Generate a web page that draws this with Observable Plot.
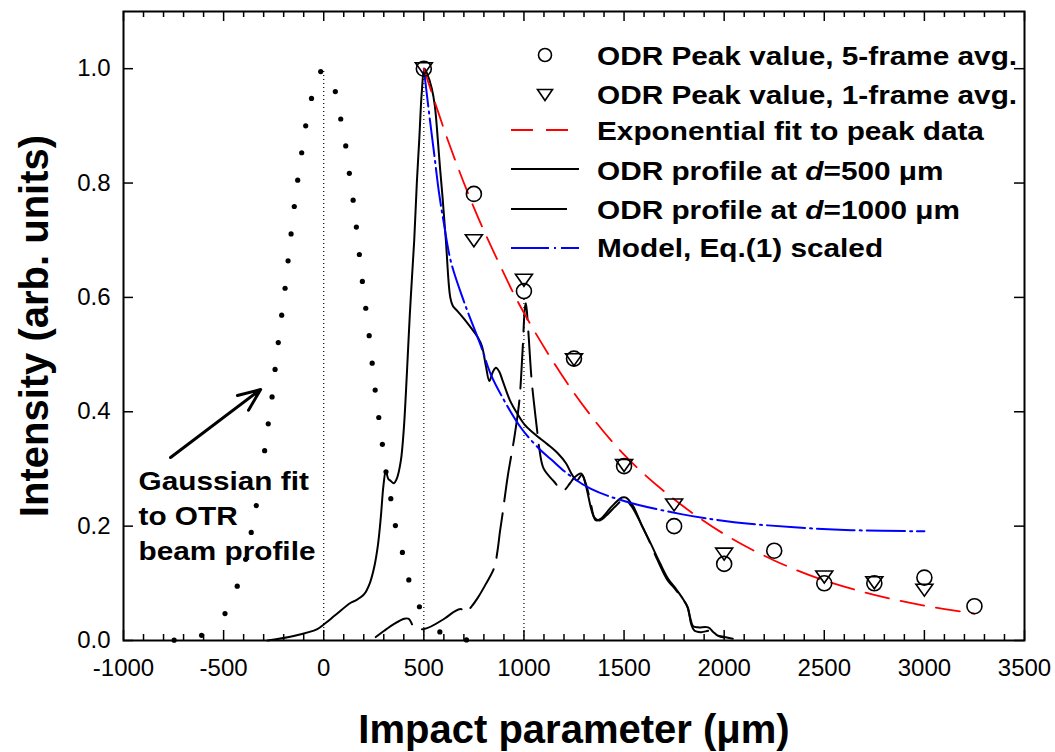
<!DOCTYPE html>
<html><head><meta charset="utf-8">
<script src="https://cdn.jsdelivr.net/npm/d3@7"></script>
<script src="https://cdn.jsdelivr.net/npm/@observablehq/plot@0.6"></script>
<style>body{margin:0;background:#fff;} #chart{width:1055px;height:752px;}</style>
</head><body><div id="chart"></div>
<script>
// ---------- data ----------
const gaussX = [-747,-610,-493,-432,-390,-362,-337,-295,-277,-258,-243,-227,-210,-193,-178,-163,-147,-130,-110,-90,-61,-15,58,85,110,128,147,163,178,193,210,227,242,257,275,293,311,335,358,393,425,478,580,713];
const gaussY = [0.0005,0.009,0.047,0.095,0.142,0.189,0.236,0.332,0.379,0.426,0.474,0.521,0.569,0.616,0.664,0.711,0.759,0.805,0.853,0.900,0.948,0.995,0.960,0.912,0.865,0.817,0.770,0.723,0.675,0.628,0.581,0.533,0.485,0.438,0.390,0.343,0.295,0.248,0.201,0.154,0.106,0.059,0.015,0.001];

const peak5X = [500,750,1000,1250,1500,1750,2000,2250,2500,2750,3000,3250];
const peak5Y = [1.0,0.781,0.611,0.493,0.305,0.200,0.134,0.157,0.100,0.100,0.110,0.060];
const peak1X = [500,750,1000,1250,1500,1750,2000,2500,2750,3000];
const peak1Y = [1.0,0.699,0.630,0.491,0.306,0.237,0.151,0.111,0.101,0.088];

const expX = [500,625,750,875,1000,1250,1500,1750,2000,2250,2500,2750,3000,3250];
const expY = [1.0,0.870,0.757,0.660,0.573,0.433,0.325,0.247,0.186,0.140,0.105,0.080,0.061,0.047];

const modelX = [500,527,552,577,600,635,700,785,835,885,985,1077,1135,1220,1335,1500,1785,2050,2350,2635,3000];
const modelY = [1.0,0.920,0.850,0.780,0.730,0.663,0.593,0.515,0.465,0.430,0.372,0.335,0.317,0.291,0.265,0.244,0.221,0.207,0.198,0.193,0.191];

const p500X = [-280,-150,-32,0,60,135,160,202,230,252,270,285,298,310,322,335,350,365,385,400,410,420,430,440,452,465,477,490,503,518,540,555,570,580,593,610,632,645,668,702,735,770,790,810,827,845,860,877,893,930,968,1002,1050,1118,1170,1210,1240,1265,1290,1310,1340,1360,1385,1440,1490,1510,1545,1590,1630,1680,1720,1760,1790,1815,1830,1845,1870,1920,1945,1970,2000];
const p500Y = [0,0.008,0.020,0.028,0.045,0.066,0.070,0.081,0.100,0.128,0.165,0.215,0.270,0.297,0.283,0.279,0.275,0.283,0.314,0.370,0.430,0.500,0.570,0.630,0.700,0.800,0.875,0.960,1.0,0.990,0.965,0.935,0.875,0.830,0.777,0.700,0.600,0.585,0.576,0.562,0.547,0.530,0.515,0.480,0.454,0.470,0.477,0.470,0.455,0.420,0.396,0.378,0.362,0.343,0.327,0.310,0.290,0.280,0.290,0.270,0.225,0.210,0.213,0.235,0.250,0.250,0.235,0.200,0.172,0.135,0.108,0.090,0.075,0.060,0.040,0.025,0.023,0.023,0.015,0.008,0.005];

const p1000X = [260,302,352,402,425,452,502,602,650,685,710,735,770,810,852,868,880,893,918,935,952,977,993,1005,1010,1020,1038,1055,1068,1077,1098,1150,1195,1230,1252,1285,1310,1335,1352,1377,1410,1452,1502,1535,1585,1618,1668,1718,1743,1785,1818,1835,1852,1885,1935,1960,2002,2043];
const p1000Y = [0.006,0.017,0.029,0.038,0.038,0.023,0.020,0.038,0.050,0.055,0.049,0.058,0.075,0.099,0.128,0.157,0.190,0.221,0.285,0.320,0.355,0.419,0.506,0.582,0.590,0.550,0.457,0.400,0.361,0.335,0.301,0.278,0.262,0.275,0.285,0.292,0.273,0.238,0.215,0.210,0.218,0.233,0.247,0.236,0.204,0.180,0.140,0.105,0.095,0.076,0.058,0.029,0.017,0.0146,0.017,0.010,0.006,0.003];

const guideX = [0,500,1000];
const guideTop = [1.0,1.0,0.6];

const xMajor = [-1000,-500,0,500,1000,1500,2000,2500,3000,3500];
const xMinor = [-900,-800,-700,-600,-400,-300,-200,-100,100,200,300,400,600,700,800,900,1100,1200,1300,1400,1600,1700,1800,1900,2100,2200,2300,2400,2600,2700,2800,2900,3100,3200,3300,3400];
const yMajor = [0,0.2,0.4,0.6,0.8,1.0];

const annotText = ["Gaussian fit\nto OTR\nbeam profile"];
const annotX = [-925], annotY = [0.307];
const arrowFrom = [-765,0.320], arrowTo = [-315,0.439];

const xLabel = "Impact parameter (\u03bcm)";
const yLabel = "Intensity (arb. units)";
const legendLabels = ["ODR Peak value, 5-frame avg.","ODR Peak value, 1-frame avg.","Exponential fit to peak data","ODR profile at d=500 \u03bcm","ODR profile at d=1000 \u03bcm","Model, Eq.(1) scaled"];

// ---------- build ----------
const zip = (X,Y) => X.map((x,i)=>({x, y:Y[i]}));
const W=1055,H=752,mL=123,mR=31,mT=11,mB=112;
const pw=W-mL-mR, ph=H-mT-mB;
const FONT = "'Liberation Sans', Arial, Helvetica, sans-serif";
const WIDE = 1.145; // horizontal stretch of the bold annotation / legend lettering

const triDown = {draw(ctx,size){const r=Math.sqrt(size/Math.PI);ctx.moveTo(-1.13*r,-0.8*r);ctx.lineTo(1.13*r,-0.8*r);ctx.lineTo(0,0.8*r);ctx.closePath();}};

const plot = Plot.plot({
  width:W,height:H,marginLeft:mL,marginRight:mR,marginTop:mT,marginBottom:mB,
  style:{fontFamily:FONT,fontSize:"24px",color:"#000",background:"#fff",overflow:"visible"},
  x:{domain:[-1000,3500]}, y:{domain:[0,1.1]},
  marks:[
    Plot.ruleX(guideX.map((x,i)=>({x,top:guideTop[i]})),{x:"x",y1:0,y2:"top",stroke:"#000",strokeWidth:1.2,strokeDasharray:"1,3"}),
    Plot.dot(zip(gaussX,gaussY),{x:"x",y:"y",r:2.6,fill:"#000",stroke:null}),
    Plot.line(zip(p500X,p500Y),{x:"x",y:"y",stroke:"#000",strokeWidth:2,curve:"catmull-rom"}),
    Plot.line(zip(p1000X,p1000Y),{x:"x",y:"y",stroke:"#000",strokeWidth:2,curve:"catmull-rom",strokeDasharray:"45,12"}),
    Plot.line(zip(modelX,modelY),{x:"x",y:"y",stroke:"#0000ff",strokeWidth:2,curve:"catmull-rom",strokeDasharray:"38,5,2,5"}),
    Plot.line(zip(expX,expY),{x:"x",y:"y",stroke:"#ff0000",strokeWidth:1.8,curve:"catmull-rom",strokeDasharray:"24,12"}),
    Plot.dot(zip(peak5X,peak5Y),{x:"x",y:"y",r:7.5,stroke:"#000",strokeWidth:1.6,fill:"none"}),
    Plot.dot(zip(peak1X,peak1Y),{x:"x",y:"y",r:7.5,symbol:triDown,stroke:"#000",strokeWidth:1.6,fill:"none"}),
    Plot.arrow([{x1:arrowFrom[0],y1:arrowFrom[1],x2:arrowTo[0],y2:arrowTo[1]}],{x1:"x1",y1:"y1",x2:"x2",y2:"y2",stroke:"#000",strokeWidth:3,headLength:12,headAngle:45}),
    Plot.text(annotText.map((t,i)=>({t,x:annotX[i],y:annotY[i]})),{x:"x",y:"y",text:"t",textAnchor:"start",lineAnchor:"top",lineHeight:1.35,fontSize:26,fontWeight:"bold",fill:"#000"}),
    // inward ticks
    Plot.ruleX(xMajor,{x:d=>d,insetTop:ph-10,stroke:"#000",strokeWidth:1.5}),
    Plot.ruleX(xMajor,{x:d=>d,insetBottom:ph-10,stroke:"#000",strokeWidth:1.5}),
    Plot.ruleX(xMinor,{x:d=>d,insetTop:ph-6,stroke:"#000",strokeWidth:1.5}),
    Plot.ruleX(xMinor,{x:d=>d,insetBottom:ph-6,stroke:"#000",strokeWidth:1.5}),
    Plot.ruleY(yMajor,{y:d=>d,insetRight:pw-10,stroke:"#000",strokeWidth:1.5}),
    Plot.ruleY(yMajor,{y:d=>d,insetLeft:pw-10,stroke:"#000",strokeWidth:1.5}),
    Plot.frame({stroke:"#000",strokeWidth:2}),
    Plot.axisX({ticks:xMajor,tickSize:0,tickPadding:18,tickFormat:d=>String(d),label:null}),
    Plot.axisY({ticks:yMajor,tickSize:0,tickPadding:13,tickFormat:d3.format(".1f"),label:null}),
    Plot.text([xLabel],{frameAnchor:"bottom",dy:102,lineAnchor:"bottom",fontSize:40,fontWeight:"bold",fill:"#000"}),
    Plot.text([yLabel],{frameAnchor:"left",textAnchor:"middle",dx:-76,rotate:-90,lineAnchor:"bottom",fontSize:40,fontWeight:"bold",fill:"#000"})
  ]
});
document.getElementById("chart").appendChild(plot);

const svg = d3.select(plot);
// stretch the annotation lettering horizontally like the original
svg.selectAll("text").each(function(){
  if (!this.textContent.startsWith("Gaussian")) return;
  const t = this.getAttribute("transform");
  if (t) { this.setAttribute("transform", t + ` scale(${WIDE},1)`); }
  else {
    const x = +(this.getAttribute("x")||0), y = +(this.getAttribute("y")||0);
    this.setAttribute("x",0); this.setAttribute("y",0);
    this.setAttribute("transform", `translate(${x},${y}) scale(${WIDE},1)`);
  }
});

// ---------- legend ----------
const lg = svg.append("g").attr("font-family",FONT).attr("font-size",26).attr("font-weight","bold").attr("fill","#000").attr("text-anchor","start");
const swY = [55,95,130,169,209,248];
const baseY = [65,104,140,180,219,257];
const textX = 597;
legendLabels.forEach((lab,i)=>{
  const t = lg.append("text").attr("transform",`translate(${textX},${baseY[i]}) scale(${WIDE},1)`).attr("text-anchor","start");
  const m = lab.match(/^(.* at )d(=.*)$/);
  if (m) { t.append("tspan").text(m[1]); t.append("tspan").attr("font-style","italic").text("d"); t.append("tspan").text(m[2]); }
  else t.text(lab);
});
lg.append("circle").attr("cx",545).attr("cy",swY[0]).attr("r",6.5).attr("fill","none").attr("stroke","#000").attr("stroke-width",1.6);
lg.append("path").attr("d",`M${545-7.5},${swY[1]-5.5}L${545+7.5},${swY[1]-5.5}L545,${swY[1]+5.5}Z`).attr("fill","none").attr("stroke","#000").attr("stroke-width",1.6);
lg.append("line").attr("x1",511).attr("x2",576).attr("y1",swY[2]).attr("y2",swY[2]).attr("stroke","#ff0000").attr("stroke-width",1.8).attr("stroke-dasharray","22,13");
lg.append("line").attr("x1",511).attr("x2",579).attr("y1",swY[3]).attr("y2",swY[3]).attr("stroke","#000").attr("stroke-width",2);
lg.append("line").attr("x1",511).attr("x2",567).attr("y1",swY[4]).attr("y2",swY[4]).attr("stroke","#000").attr("stroke-width",2);
lg.append("line").attr("x1",511).attr("x2",579).attr("y1",swY[5]).attr("y2",swY[5]).attr("stroke","#0000ff").attr("stroke-width",2).attr("stroke-dasharray","38,5,2,5");
</script>
</body></html>
